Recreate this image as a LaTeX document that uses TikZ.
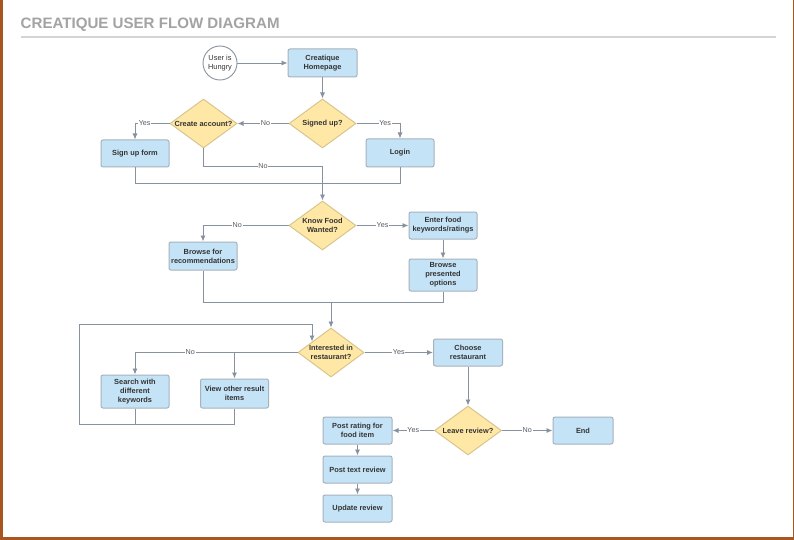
\documentclass[tikz,border=0pt]{standalone}
\usepackage{fontspec}
\setmainfont{Liberation Sans}
\usetikzlibrary{shapes.geometric,arrows.meta}
\definecolor{boxfill}{HTML}{C5E3F6}
\definecolor{boxline}{HTML}{A7B2BC}
\definecolor{diafill}{HTML}{FFE8A6}
\definecolor{dialine}{HTML}{D8C58E}
\definecolor{conn}{HTML}{8792A0}
\definecolor{txt}{HTML}{333333}
\definecolor{lbltxt}{HTML}{595959}
\definecolor{titlec}{HTML}{A3A3A3}
\definecolor{rule}{HTML}{D4D4D4}
\definecolor{wood}{HTML}{A8561E}
\tikzset{
  stepbox/.style={draw=boxline, line width=1pt, fill=boxfill, rounded corners=2pt,
    minimum width=68pt, minimum height=27pt, align=center, inner sep=1pt,
    font=\fontsize{7.4}{9}\selectfont\bfseries, text=txt},
  decision/.style={shape=diamond, draw=dialine, line width=1pt, fill=diafill,
    minimum width=67pt, minimum height=49pt, inner sep=0pt},
  dtext/.style={align=center, font=\fontsize{7.4}{9}\selectfont\bfseries, text=txt, inner sep=0pt},
  startc/.style={circle, draw=conn, line width=0.9pt, fill=white, minimum size=34pt,
    inner sep=0pt, align=center, font=\fontsize{7.4}{9}\selectfont, text=txt},
  conline/.style={draw=conn, line width=0.9pt},
  arr/.style={conline, -{Latex[length=6pt,width=5pt]}},
  lbl/.style={fill=white, inner sep=0.8pt, font=\fontsize{7.2}{8}\selectfont, text=lbltxt},
}
\begin{document}
\begin{tikzpicture}[x=1pt,y=-1pt]
% background & frame
\fill[wood] (0,0) rectangle (794,540);
\fill[white] (3,0) rectangle (793,537);
\useasboundingbox (0,0) rectangle (794,540);
% title
\node[anchor=west, inner sep=0pt, font=\fontsize{15.1}{18}\selectfont\bfseries, text=titlec] (title) at (20.5,25) {CREATIQUE USER FLOW DIAGRAM};
\draw[rule, line width=2pt] (21,37) -- (776,37);

% nodes
\node[startc] (user) at (220,63) {User is\\Hungry};
\node[stepbox, minimum width=69pt, minimum height=28pt] (home) at (322.5,63) {Creatique\\Homepage};
\node[decision, label={[dtext]center:Signed up?}] (signed) at (322.5,123.5) {};
\node[decision, label={[dtext]center:Create account?}] (create) at (203.5,123.5) {};
\node[stepbox] (signup) at (135,153.5) {Sign up form};
\node[stepbox, minimum height=28pt] (login) at (400,153) {Login};
\node[decision, label={[dtext]center:Know Food\\Wanted?}] (know) at (322.5,225.5) {};
\node[stepbox, minimum height=28pt] (browse) at (203,256) {Browse for\\recommendations};
\node[stepbox] (enter) at (443,225.5) {Enter food\\keywords/ratings};
\node[stepbox, minimum height=32pt] (present) at (443,275) {Browse\\presented\\options};
\node[decision, minimum width=66pt, label={[dtext]center:Interested in\\restaurant?}] (interest) at (331,352.5) {};
\node[stepbox, minimum height=33pt] (search) at (135,391.5) {Search with\\different\\keywords};
\node[stepbox, minimum height=29pt] (view) at (234.5,393.5) {View other result\\items};
\node[stepbox, minimum width=69pt] (choose) at (468,352.5) {Choose\\restaurant};
\node[decision, label={[dtext]center:Leave review?}] (leave) at (468,430.5) {};
\node[stepbox, minimum width=69pt] (post) at (357.5,430.5) {Post rating for\\food item};
\node[stepbox, minimum width=60pt] (endn) at (583,430.5) {End};
\node[stepbox, minimum width=69pt] (textrev) at (357.5,469.5) {Post text review};
\node[stepbox, minimum width=69pt] (update) at (357.5,508.5) {Update review};

% helper coordinates
\coordinate (j1) at (322.5,166);
\coordinate (j2) at (331,302);
\coordinate (j3) at (view.north |- interest.west);
\coordinate (j4) at (135,424);
\coordinate (k1) at (79,424);
\coordinate (k2) at (79,324);
\coordinate (k3) at (312,324);
\coordinate (k4) at (312,341.5);

% connectors
\draw[arr] (user) -- (home);
\draw[arr] (home) -- (signed);
\draw[arr] (signed) -- node[lbl, pos=0.45]{No} (create);
\draw[arr] (create.west) -| node[lbl, pos=0.36]{Yes} (signup.north);
\draw[arr] (signed.east) -| node[lbl, pos=0.33]{Yes} (login.north);
\draw[conline] (create.south) |- node[lbl, pos=0.75]{No} (j1);
\draw[conline] (signup.south) -- ++(0,16) -| (login.south);
\draw[arr] (j1) -- (know.north);
\draw[arr] (know.west) -| node[lbl, pos=0.3]{No} (browse.north);
\draw[arr] (know.east) -- node[lbl, pos=0.5]{Yes} (enter.west);
\draw[arr] (enter) -- (present);
\draw[conline] (browse.south) -- ++(0,32) -| (present.south);
\draw[arr] (j2) -- (interest.north);
\draw[arr] (interest.west) -| node[lbl, pos=0.33]{No} (search.north);
\draw[arr] (j3) -- (view.north);
\draw[conline] (search.south) -- (j4) -| (view.south);
\draw[arr] (j4) -- (k1) -- (k2) -- (k3) -- (k4);
\draw[arr] (interest.east) -- node[lbl, pos=0.5]{Yes} (choose.west);
\draw[arr] (choose) -- (leave);
\draw[arr] (leave.west) -- node[lbl, pos=0.5]{Yes} (post.east);
\draw[arr] (leave.east) -- node[lbl, pos=0.5]{No} (endn.west);
\draw[arr] (post) -- (textrev);
\draw[arr] (textrev) -- (update);
\end{tikzpicture}
\end{document}
